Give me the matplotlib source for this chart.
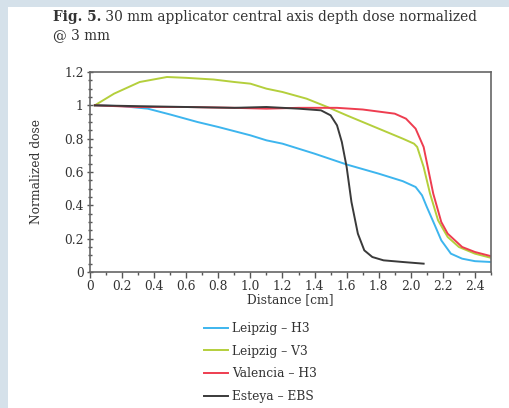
import matplotlib
matplotlib.use('Agg')
import matplotlib.pyplot as plt
from matplotlib.patches import Rectangle
from matplotlib.ticker import MultipleLocator

# series
leipzig_h3_x = [0.03, 0.2, 0.36, 0.5, 0.67, 0.8, 0.92, 1.0, 1.1, 1.2, 1.4, 1.6, 1.8, 1.95, 2.03, 2.07, 2.1, 2.15, 2.19, 2.25, 2.32, 2.4, 2.5]
leipzig_h3_y = [1.0, 0.995, 0.98, 0.945, 0.90, 0.87, 0.84, 0.82, 0.79, 0.77, 0.71, 0.645, 0.59, 0.545, 0.51, 0.46, 0.39, 0.28, 0.19, 0.11, 0.08, 0.065, 0.06]

leipzig_v3_x = [0.03, 0.15, 0.31, 0.48, 0.6, 0.77, 0.9, 1.0, 1.1, 1.2, 1.35, 1.48, 1.6, 1.8, 1.95, 2.02, 2.04, 2.08, 2.12, 2.17, 2.23, 2.3, 2.4, 2.5]
leipzig_v3_y = [1.0, 1.07, 1.14, 1.17, 1.165, 1.155, 1.14, 1.13, 1.10, 1.08, 1.04, 0.99, 0.94, 0.86, 0.80, 0.77, 0.75, 0.63, 0.47, 0.31, 0.21, 0.15, 0.11, 0.085]

valencia_h3_x = [0.03, 0.3, 0.6, 0.9, 1.1, 1.3, 1.54, 1.7, 1.9, 1.97, 2.03, 2.08, 2.14, 2.19, 2.23, 2.32, 2.4, 2.5]
valencia_h3_y = [1.0, 0.99, 0.99, 0.985, 0.98, 0.985, 0.985, 0.975, 0.95, 0.92, 0.86, 0.75, 0.47, 0.30, 0.23, 0.15, 0.12, 0.095]

esteya_x = [0.03, 0.3, 0.6, 0.9, 1.1, 1.3, 1.44, 1.5, 1.54, 1.57, 1.6, 1.63, 1.67, 1.71, 1.76, 1.83, 1.95, 2.08]
esteya_y = [1.0, 0.995, 0.99, 0.985, 0.99, 0.98, 0.97, 0.94, 0.88, 0.78, 0.63, 0.42, 0.23, 0.13, 0.09, 0.07, 0.06, 0.05]

x_ticks = [0, 0.2, 0.4, 0.6, 0.8, 1.0, 1.2, 1.4, 1.6, 1.8, 2.0, 2.2, 2.4]
x_tick_labels = ['0', '0.2', '0.4', '0.6', '0.8', '1.0', '1.2', '1.4', '1.6', '1.8', '2.0', '2.2', '2.4']
y_ticks = [0, 0.2, 0.4, 0.6, 0.8, 1.0, 1.2]
y_tick_labels = ['0', '0.2', '0.4', '0.6', '0.8', '1', '1.2']

plt.rcParams['font.family'] = ['DejaVu Serif']

fig = plt.figure(figsize=(5.09, 4.08), dpi=100)
fig.patch.set_facecolor('#d5e1ea')
W, H = 509.0, 408.0
fig.add_artist(Rectangle((8 / W, 0), 1, 1 - 7 / H, transform=fig.transFigure,
                         facecolor='white', edgecolor='none', zorder=-5))

ax = fig.add_axes([90 / W, 1 - 272 / H, (491 - 90) / W, 200 / H])

ax.plot(leipzig_h3_x, leipzig_h3_y, color='#3db5ee', lw=1.4, label='Leipzig \u2013 H3')
ax.plot(leipzig_v3_x, leipzig_v3_y, color='#b4cf3c', lw=1.4, label='Leipzig \u2013 V3')
ax.plot(valencia_h3_x, valencia_h3_y, color='#ee3d50', lw=1.4, label='Valencia \u2013 H3')
ax.plot(esteya_x, esteya_y, color='#3a3a3a', lw=1.4, label='Esteya \u2013 EBS')

ax.set_xlim(0, 2.5)
ax.set_ylim(0, 1.2)
ax.set_xticks(x_ticks)
ax.set_xticklabels(x_tick_labels)
ax.set_yticks(y_ticks)
ax.set_yticklabels(y_tick_labels)
ax.xaxis.set_minor_locator(MultipleLocator(0.1))
ax.yaxis.set_minor_locator(MultipleLocator(0.05))
ax.tick_params(axis='both', which='both', colors='#555555', labelcolor='#333333', labelsize=8.8, width=1)
ax.tick_params(axis='x', which='major', direction='out', length=4, pad=2)
ax.tick_params(axis='x', which='minor', direction='out', length=2.5)
ax.tick_params(axis='y', which='major', direction='inout', length=5, pad=2)
ax.tick_params(axis='y', which='minor', direction='inout', length=3)
for s in ax.spines.values():
    s.set_color('#666666')
    s.set_linewidth(1.2)

ax.set_xlabel('Distance [cm]', fontsize=8.8, color='#333333', labelpad=0)
ax.set_ylabel('Normalized dose', fontsize=8.8, color='#333333')
ax.yaxis.set_label_coords((43 - 90) / 401.0, 0.5)

leg = ax.legend(loc='upper left', bbox_to_anchor=((199 - 90) / 401.0, -0.225), frameon=False,
                fontsize=8.8, handlelength=2.0, handletextpad=0.3, labelspacing=0.8,
                borderaxespad=0)
for t in leg.get_texts():
    t.set_color('#333333')

t1 = fig.text(53 / W, 1 - 21 / H, 'Fig. 5.', fontsize=9.9, fontweight='bold', color='#333333')
ax.annotate(' 30 mm applicator central axis depth dose normalized', xy=(1, 0),
            xycoords=t1, fontsize=9.9, color='#333333', va='bottom')
fig.text(53 / W, 1 - 39 / H, '@ 3 mm', fontsize=9.9, color='#333333')

fig.savefig('out.png', dpi=100, facecolor=fig.get_facecolor())
